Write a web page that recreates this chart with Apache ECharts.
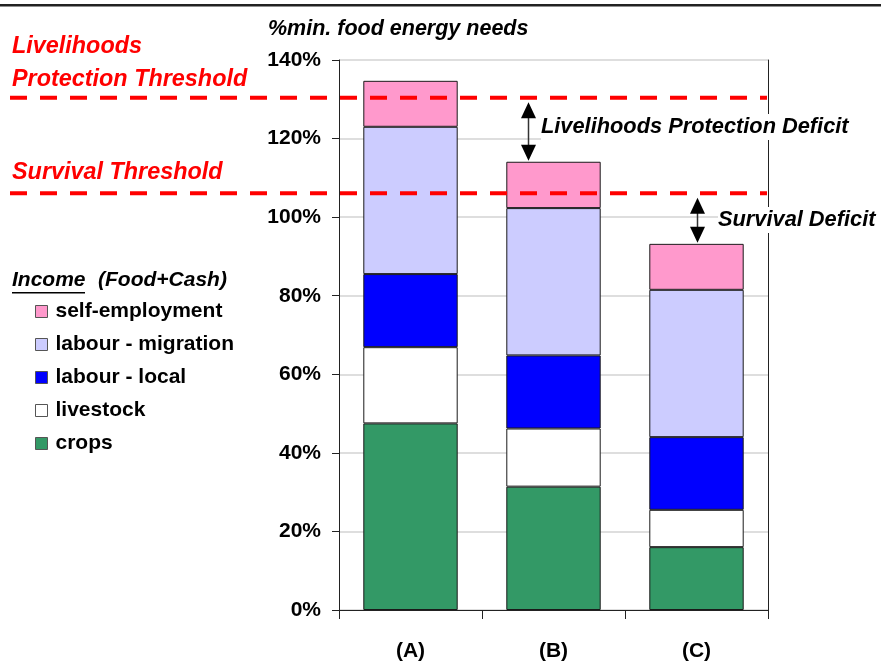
<!DOCTYPE html>
<html>
<head>
<meta charset="utf-8">
<script src="https://cdn.jsdelivr.net/npm/echarts@6/dist/echarts.min.js"></script>
<style>
html,body{margin:0;padding:0;background:#fff;}
#chart{width:881px;height:671px;}
</style>
</head>
<body>
<div id="chart"></div>
<script>
// ---- data ----
const categories = ['(A)', '(B)', '(C)'];
const crops = [47.5, 31.4, 16.0];
const livestock = [19.4, 14.8, 9.5];
const labourLocal = [18.6, 18.6, 18.5];
const labourMigration = [37.5, 37.5, 37.5];
const selfEmployment = [11.7, 11.8, 11.7];
const seriesNames = ['crops', 'livestock', 'labour - local', 'labour - migration', 'self-employment'];
const legendOrder = ['self-employment', 'labour - migration', 'labour - local', 'livestock', 'crops'];
const livelihoodsThreshold = 130.4;
const survivalThreshold = 106.1;
const yMin = 0, yMax = 140, yStep = 20;

// ---- derived ----
const seriesValues = [crops, livestock, labourLocal, labourMigration, selfEmployment];
const totals = categories.map((c, i) => seriesValues.reduce((s, arr) => s + arr[i], 0));
const thresholdData = [[0, livelihoodsThreshold], [0, survivalThreshold]];
const arrowData = [[1, livelihoodsThreshold, totals[1]], [2, survivalThreshold, totals[2]]];
const arrowOffsets = [-25, 1];

const colors = ['#339966', '#ffffff', '#0000ff', '#ccccff', '#ff99cc'];
const FONT = "'Liberation Sans', Arial, Helvetica, sans-serif";

const chart = echarts.init(document.getElementById('chart'), null, {renderer: 'canvas'});

const barSeries = seriesNames.map((name, k) => ({
  name: name,
  type: 'bar',
  stack: 'total',
  barWidth: '66%',
  data: seriesValues[k],
  itemStyle: {color: colors[k], borderColor: '#1a1a1a', borderWidth: 1},
  emphasis: {disabled: true},
  z: 2
}));

const option = {
  animation: false,
  backgroundColor: '#fff',
  textStyle: {fontFamily: FONT},
  grid: {left: 339, right: 113, top: 60, bottom: 61, show: false},
  legend: {
    orient: 'vertical',
    left: 35,
    top: 301,
    padding: 0,
    itemWidth: 12,
    itemHeight: 12,
    itemGap: 12,
    icon: 'rect',
    data: legendOrder,
    itemStyle: {borderColor: '#555', borderWidth: 1},
    textStyle: {fontFamily: FONT, fontSize: 21, fontWeight: 'bold', color: '#000', lineHeight: 21, padding: [0, 0, 0, 3]},
    selectedMode: false
  },
  xAxis: [{
    type: 'category',
    data: categories,
    axisLine: {lineStyle: {color: '#222', width: 1}},
    axisTick: {show: true, length: 9, lineStyle: {color: '#222'}},
    axisLabel: {fontFamily: FONT, fontSize: 21, fontWeight: 'bold', color: '#000', margin: 31},
    splitLine: {show: false}
  }, {
    type: 'category',
    position: 'top',
    data: categories,
    axisLine: {show: true, lineStyle: {color: '#222', width: 1}},
    axisTick: {show: false},
    axisLabel: {show: false},
    splitLine: {show: false}
  }],
  yAxis: [{
    type: 'value',
    min: yMin,
    max: yMax,
    interval: yStep,
    axisLine: {show: true, lineStyle: {color: '#222', width: 1}},
    axisTick: {show: true, length: 7, lineStyle: {color: '#222'}},
    axisLabel: {formatter: '{value}%', fontFamily: FONT, fontSize: 21, fontWeight: 'bold', color: '#000', margin: 18},
    splitLine: {show: true, lineStyle: {color: '#d3d3d3', width: 1.5}}
  }, {
    type: 'value',
    position: 'right',
    min: yMin,
    max: yMax,
    interval: yStep,
    axisLine: {show: true, lineStyle: {color: '#222', width: 1}},
    axisTick: {show: false},
    axisLabel: {show: false},
    splitLine: {show: false}
  }],
  series: barSeries.concat([
    {
      type: 'custom',
      name: 'thresholds',
      clip: false,
      z: 6,
      silent: true,
      data: thresholdData,
      renderItem: function (params, api) {
        const y = api.coord([api.value(0), api.value(1)])[1];
        return {
          type: 'line',
          shape: {x1: 10, y1: y, x2: 767, y2: y},
          style: {stroke: '#ff0000', lineWidth: 4, lineDash: [17, 13]}
        };
      }
    },
    {
      type: 'custom',
      name: 'arrows',
      clip: false,
      z: 7,
      silent: true,
      data: arrowData,
      renderItem: function (params, api) {
        const x = api.coord([api.value(0), 0])[0] + arrowOffsets[params.dataIndex];
        const yTop = api.coord([api.value(0), api.value(1)])[1] + 4.5;
        const yBot = api.coord([api.value(0), api.value(2)])[1] - 1;
        const hw = 7.5, hh = 16;
        return {
          type: 'group',
          children: [
            {type: 'line', shape: {x1: x, y1: yTop + hh - 2, x2: x, y2: yBot - hh + 2}, style: {stroke: '#333', lineWidth: 1.5}},
            {type: 'polygon', shape: {points: [[x, yTop], [x - hw, yTop + hh], [x + hw, yTop + hh]]}, style: {fill: '#000'}},
            {type: 'polygon', shape: {points: [[x, yBot], [x - hw, yBot - hh], [x + hw, yBot - hh]]}, style: {fill: '#000'}}
          ]
        };
      }
    }
  ]),
  graphic: [
    {type: 'rect', shape: {x: 0, y: 4, width: 881, height: 2.5}, style: {fill: '#222'}, z: 100},
    {type: 'text', z: 100, style: {x: 268, y: 29, text: '%min. food energy needs', font: "italic bold 21.5px " + FONT, fill: '#000', verticalAlign: 'middle'}},
    {type: 'text', z: 100, style: {x: 12, y: 47, text: 'Livelihoods', font: "italic bold 23.4px " + FONT, fill: '#ff0000', verticalAlign: 'middle'}},
    {type: 'text', z: 100, style: {x: 12, y: 80, text: 'Protection Threshold', font: "italic bold 23.4px " + FONT, fill: '#ff0000', verticalAlign: 'middle'}},
    {type: 'text', z: 100, style: {x: 12, y: 173, text: 'Survival Threshold', font: "italic bold 23.4px " + FONT, fill: '#ff0000', verticalAlign: 'middle'}},
    {type: 'text', z: 100, style: {x: 541, y: 127, text: 'Livelihoods Protection Deficit', font: "italic bold 21.8px " + FONT, fill: '#000', verticalAlign: 'middle', backgroundColor: '#fff', padding: [2, 0, 2, 0]}},
    {type: 'text', z: 100, style: {x: 718, y: 220, text: 'Survival Deficit', font: "italic bold 21.8px " + FONT, fill: '#000', verticalAlign: 'middle', backgroundColor: '#fff', padding: [2, 0, 2, 0]}},
    {type: 'text', z: 100, style: {x: 12, y: 280, text: 'Income', font: "italic bold 21px " + FONT, fill: '#000', verticalAlign: 'middle'}},
    {type: 'text', z: 100, style: {x: 98, y: 280, text: '(Food+Cash)', font: "italic bold 21px " + FONT, fill: '#000', verticalAlign: 'middle'}},
    {type: 'rect', z: 100, shape: {x: 12, y: 292, width: 73, height: 1.5}, style: {fill: '#000'}}
  ]
};

chart.setOption(option);
</script>
</body>
</html>
